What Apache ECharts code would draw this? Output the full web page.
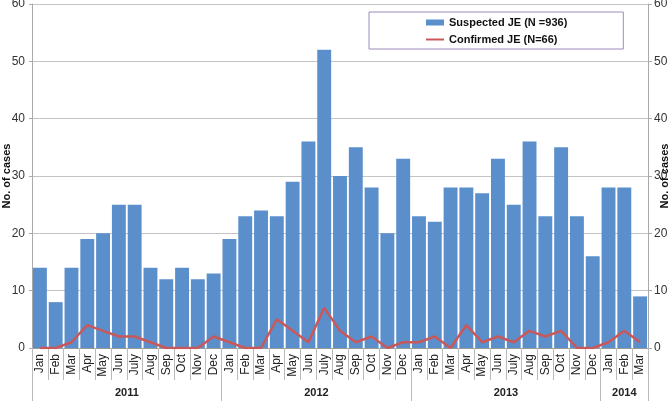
<!DOCTYPE html>
<html><head><meta charset="utf-8">
<script src="https://cdn.jsdelivr.net/npm/echarts@6/dist/echarts.min.js"></script>
<style>html,body{margin:0;padding:0;background:#fff}#c{width:670px;height:401px}</style>
</head><body><div id="c"></div>
<script>
const months = ['Jan','Feb','Mar','Apr','May','Jun','July','Aug','Sep','Oct','Nov','Dec',
  'Jan','Feb','Mar','Apr','May','Jun','July','Aug','Sep','Oct','Nov','Dec',
  'Jan','Feb','Mar','Apr','May','Jun','July','Aug','Sep','Oct','Nov','Dec',
  'Jan','Feb','Mar'];
const years = ['2011','2012','2013','2014'];
const monthsPerYear = [12,12,12,3];
const suspected = [14,8,14,19,20,25,25,14,12,14,12,13,
  19,23,24,23,29,36,52,30,35,28,20,33,
  23,22,28,28,27,33,25,36,23,35,23,16,
  28,28,9];
const confirmed = [0,0,1,4,3,2,2,1,0,0,0,2,
  1,0,0,5,3,1,7,3,1,2,0,1,
  1,2,0,4,1,2,1,3,2,3,0,0,
  1,3,1];
const yMin = 0, yMax = 60, yStep = 10;
const seriesNames = ['Suspected JE (N =936)','Confirmed JE (N=66)'];

// derived helpers for the year axis
const yearOfCat = [];
const yearStarts = [];
const yearMid = {};
let k = 0;
years.forEach((y, i) => {
  yearStarts.push(k);
  const n = monthsPerYear[i];
  yearMid[Math.floor((n - 1) / 2) + k] = n % 2 === 0 ? 'even' : 'odd';
  for (let j = 0; j < n; j++) yearOfCat.push(y);
  k += n;
});

const FONT = 'Liberation Sans, Arial, sans-serif';
const chart = echarts.init(document.getElementById('c'));
chart.setOption({
  animation: false,
  textStyle: {fontFamily: FONT},
  grid: {left: 32, right: 22, top: 4, bottom: 53, containLabel: false, outerBoundsMode: 'none'},
  legend: {
    orient: 'vertical', left: 369, top: 12,
    padding: [5, 56, 4, 57], itemGap: 6,
    itemWidth: 18, itemHeight: 12,
    borderColor: '#9c8cb8', borderWidth: 1, backgroundColor: '#fff',
    textStyle: {fontFamily: FONT, fontSize: 11, fontWeight: 'bold', color: '#111'},
    data: [
      {name: seriesNames[0], icon: 'path://M0,0H18V6H0Z'},
      {name: seriesNames[1], icon: 'path://M0,0H18V2H0Z'}
    ]
  },
  xAxis: [{
    type: 'category', data: months, position: 'bottom',
    axisLine: {show: true, lineStyle: {color: '#999'}},
    axisTick: {show: true, interval: 0, length: 32, lineStyle: {color: '#bbb'}},
    axisLabel: {interval: 0, rotate: 90, margin: 6, fontSize: 12, color: '#222', fontFamily: FONT}
  }, {
    type: 'category', data: yearOfCat, position: 'bottom', offset: 0,
    axisLine: {show: false},
    axisTick: {show: true, length: 53, lineStyle: {color: '#bbb'},
      interval: (i) => yearStarts.indexOf(i) >= 0},
    axisLabel: {
      interval: (i) => yearMid[i] !== undefined,
      margin: 39, fontSize: 11, fontWeight: 'bold', color: '#222', fontFamily: FONT,
      formatter: (v, i) => yearMid[i] === 'even' ? '{e|' + v + '}' : '{o|' + v + '}',
      rich: {
        e: {padding: [0, 0, 0, 16], fontSize: 11, fontWeight: 'bold', color: '#222', fontFamily: FONT},
        o: {fontSize: 11, fontWeight: 'bold', color: '#222', fontFamily: FONT}
      }
    }
  }],
  yAxis: [{
    type: 'value', min: yMin, max: yMax, interval: yStep, position: 'left',
    name: 'No. of cases', nameLocation: 'middle', nameGap: 20, nameRotate: 90,
    nameMoveOverlap: false,
    nameTextStyle: {fontWeight: 'bold', fontSize: 11, color: '#111', fontFamily: FONT},
    axisLine: {show: true, lineStyle: {color: '#aaa'}},
    axisTick: {show: true, length: 3, lineStyle: {color: '#aaa'}},
    axisLabel: {fontSize: 12, color: '#333', margin: 7, fontFamily: FONT},
    splitLine: {show: true, lineStyle: {color: '#c4c4c4'}}
  }, {
    type: 'value', min: yMin, max: yMax, interval: yStep, position: 'right',
    name: 'No. of cases', nameLocation: 'middle', nameGap: 11, nameRotate: 90,
    nameMoveOverlap: false,
    nameTextStyle: {fontWeight: 'bold', fontSize: 11, color: '#111', fontFamily: FONT},
    axisLine: {show: true, lineStyle: {color: '#aaa'}},
    axisTick: {show: true, length: 4, lineStyle: {color: '#aaa'}},
    axisLabel: {fontSize: 12, color: '#333', margin: 6, fontFamily: FONT},
    splitLine: {show: false}
  }],
  series: [{
    name: seriesNames[0], type: 'bar', data: suspected,
    barCategoryGap: '12%',
    itemStyle: {color: '#5a8fcc'}
  }, {
    name: seriesNames[1], type: 'line', data: confirmed,
    symbol: 'none',
    lineStyle: {color: '#c9585a', width: 2.5},
    itemStyle: {color: '#c9585a'}
  }]
});
</script>
</body></html>
